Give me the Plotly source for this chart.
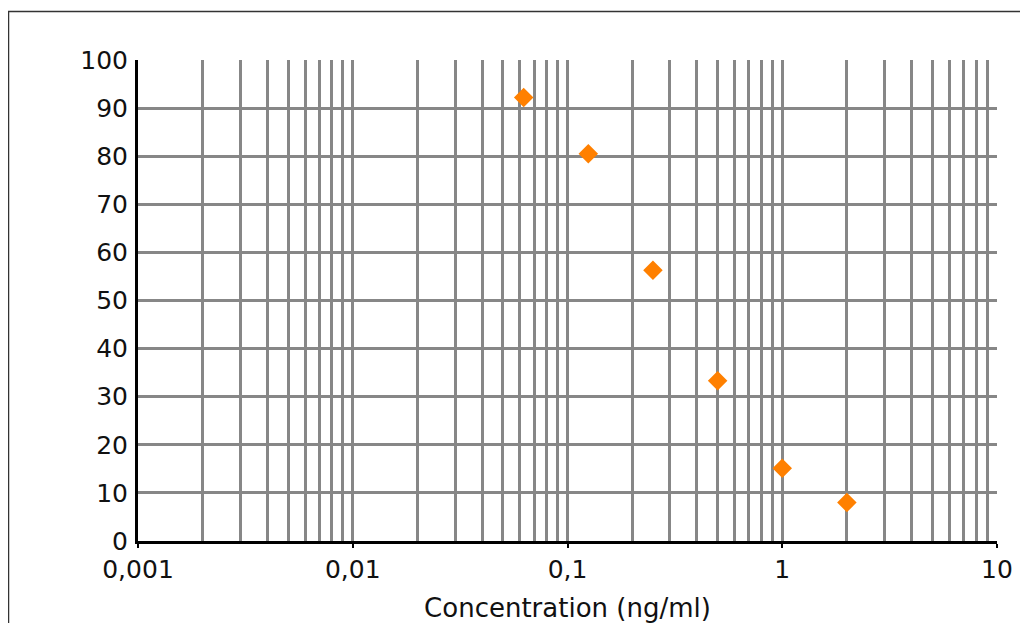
import plotly.graph_objects as go

# Data
concentration = [0.0625, 0.125, 0.25, 0.5, 1, 2]
response = [92.2, 80.5, 56.3, 33.3, 15.1, 8.0]
x_tickvals = [0.001, 0.01, 0.1, 1, 10]
x_ticktext = ["0,001", "0,01", "0,1", "1", "10"]
y_tickvals = [0, 10, 20, 30, 40, 50, 60, 70, 80, 90, 100]

# page has an 8px body margin: figure drawn at (8, 8)
OFF = 8
W, H = 1028 - OFF, 623 - OFF
L, T = 138 - OFF, 60 - OFF
pw, ph = 859, 481
R = W - L - pw
B = H - T - ph

def px_x(p):
    return (p - OFF - L) / pw

def px_y(p):
    return (T + ph - (p - OFF)) / ph

fig = go.Figure()
fig.add_trace(go.Scatter(
    x=concentration, y=response, mode="markers",
    marker=dict(symbol="diamond", size=15, color="#FF8000",
                line=dict(width=0)),
    showlegend=False, cliponaxis=False,
))

grid = "#878787"
tickfont = dict(family="DejaVu Sans, sans-serif", size=25, color="#111111")
fig.update_layout(
    width=W, height=H,
    margin=dict(l=L, r=R, t=T, b=B, autoexpand=False),
    paper_bgcolor="white", plot_bgcolor="white",
    font=tickfont,
    xaxis=dict(
        type="log", range=[-3, 1], automargin=False,
        tickvals=x_tickvals, ticktext=x_ticktext, tickfont=tickfont,
        showgrid=True, gridcolor=grid, gridwidth=3,
        minor=dict(dtick="D1", showgrid=True, gridcolor=grid, gridwidth=3, ticks=""),
        showline=True, linecolor="black", linewidth=3,
        ticks="outside", ticklen=4, tickwidth=2, tickcolor="black",
        zeroline=False,
        title=dict(text="Concentration (ng/ml)", standoff=18,
                   font=dict(family="DejaVu Sans, sans-serif", size=26, color="#111111")),
    ),
    yaxis=dict(
        range=[0, 100], tickvals=y_tickvals, tickfont=tickfont, automargin=False,
        showgrid=True, gridcolor=grid, gridwidth=3,
        showline=True, linecolor="black", linewidth=3,
        ticks="", zeroline=False,
        ticklabelstandoff=2,
    ),
    shapes=[
        dict(type="line", xref="paper", yref="paper",
             x0=px_x(8), x1=px_x(1030), y0=px_y(11.5), y1=px_y(11.5),
             line=dict(color="#333333", width=1.5)),
        dict(type="line", xref="paper", yref="paper",
             x0=px_x(8.5), x1=px_x(8.5), y0=px_y(11.5), y1=px_y(630),
             line=dict(color="#333333", width=1.5)),
    ],
)

fig.write_html("out.html")
